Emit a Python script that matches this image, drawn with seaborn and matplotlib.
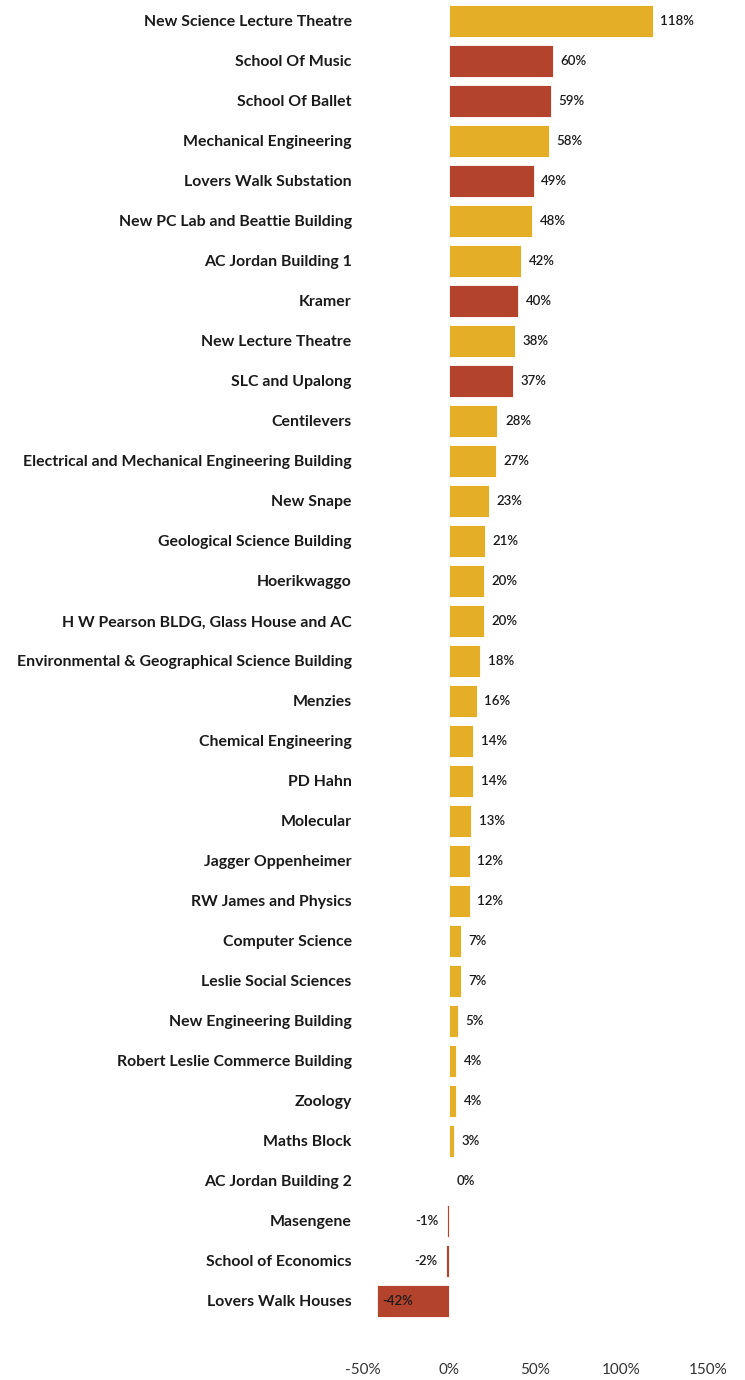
import pandas as pd
import matplotlib.pyplot as plt
import seaborn as sns

buildings = [
    "New Science Lecture Theatre", "School Of Music", "School Of Ballet",
    "Mechanical Engineering", "Lovers Walk Substation", "New PC Lab and Beattie Building",
    "AC Jordan Building 1", "Kramer", "New Lecture Theatre", "SLC and Upalong",
    "Centilevers", "Electrical and Mechanical Engineering Building", "New Snape",
    "Geological Science Building", "Hoerikwaggo", "H W Pearson BLDG, Glass House and AC",
    "Environmental & Geographical Science Building", "Menzies", "Chemical Engineering",
    "PD Hahn", "Molecular", "Jagger Oppenheimer", "RW James and Physics",
    "Computer Science", "Leslie Social Sciences", "New Engineering Building",
    "Robert Leslie Commerce Building", "Zoology", "Maths Block", "AC Jordan Building 2",
    "Masengene", "School of Economics", "Lovers Walk Houses",
]
change = [118, 60, 59, 58, 49, 48, 42, 40, 38, 37, 28, 27, 23, 21, 20, 20, 18, 16,
          14, 14, 13, 12, 12, 7, 7, 5, 4, 4, 3, 0, -1, -2, -42]
group = ["A", "B", "B", "A", "B", "A", "A", "B", "A", "B", "A", "A", "A", "A", "A", "A",
         "A", "A", "A", "A", "A", "A", "A", "A", "A", "A", "A", "A", "A", "A", "B", "B", "B"]

df = pd.DataFrame({"building": buildings, "change": change, "group": group})

sns.set_theme(style="white")
plt.rcParams["font.family"] = ["Lato", "DejaVu Sans"]

fig = plt.figure(figsize=(7.45, 13.8), dpi=100)
ax = fig.add_axes([0.487, 0.0428, 0.463, 0.9565])

sns.barplot(data=df, y="building", x="change", hue="group",
            palette={"A": "#E4AF26", "B": "#B4432D"}, dodge=False, saturation=1,
            width=0.8, edgecolor="white", linewidth=0.6, legend=False, ax=ax)

for i, v in enumerate(change):
    if v >= 0:
        ax.annotate(f"{v}%", (v, i), xytext=(5.5, 0), textcoords="offset points",
                    ha="left", va="center", fontsize=9.5, fontweight="semibold", color="#1a1a1a")
    elif v > -20:
        ax.annotate(f"{v}%", (v, i), xytext=(-6, 0), textcoords="offset points",
                    ha="right", va="center", fontsize=9.5, fontweight="semibold", color="#1a1a1a")
    else:
        ax.annotate(f"{v}%", (v, i), xytext=(4, 0), textcoords="offset points",
                    ha="left", va="center", fontsize=9.5, fontweight="semibold", color="#1a1a1a")

ax.set_xlim(-50, 150)
ax.set_ylim(len(buildings) - 0.5, -0.5)
ax.set_xticks([-50, 0, 50, 100, 150])
ax.set_xticklabels(["-50%", "0%", "50%", "100%", "150%"])
ax.tick_params(axis="x", length=0, pad=30, labelsize=11, labelcolor="#333333")
ax.tick_params(axis="y", length=0, pad=8, labelsize=11.4)
for lab in ax.get_yticklabels():
    lab.set_fontweight("bold")
    lab.set_color("#1a1a1a")
ax.set_xlabel("")
ax.set_ylabel("")
sns.despine(left=True, bottom=True)

fig.savefig("out.png", dpi=100)
